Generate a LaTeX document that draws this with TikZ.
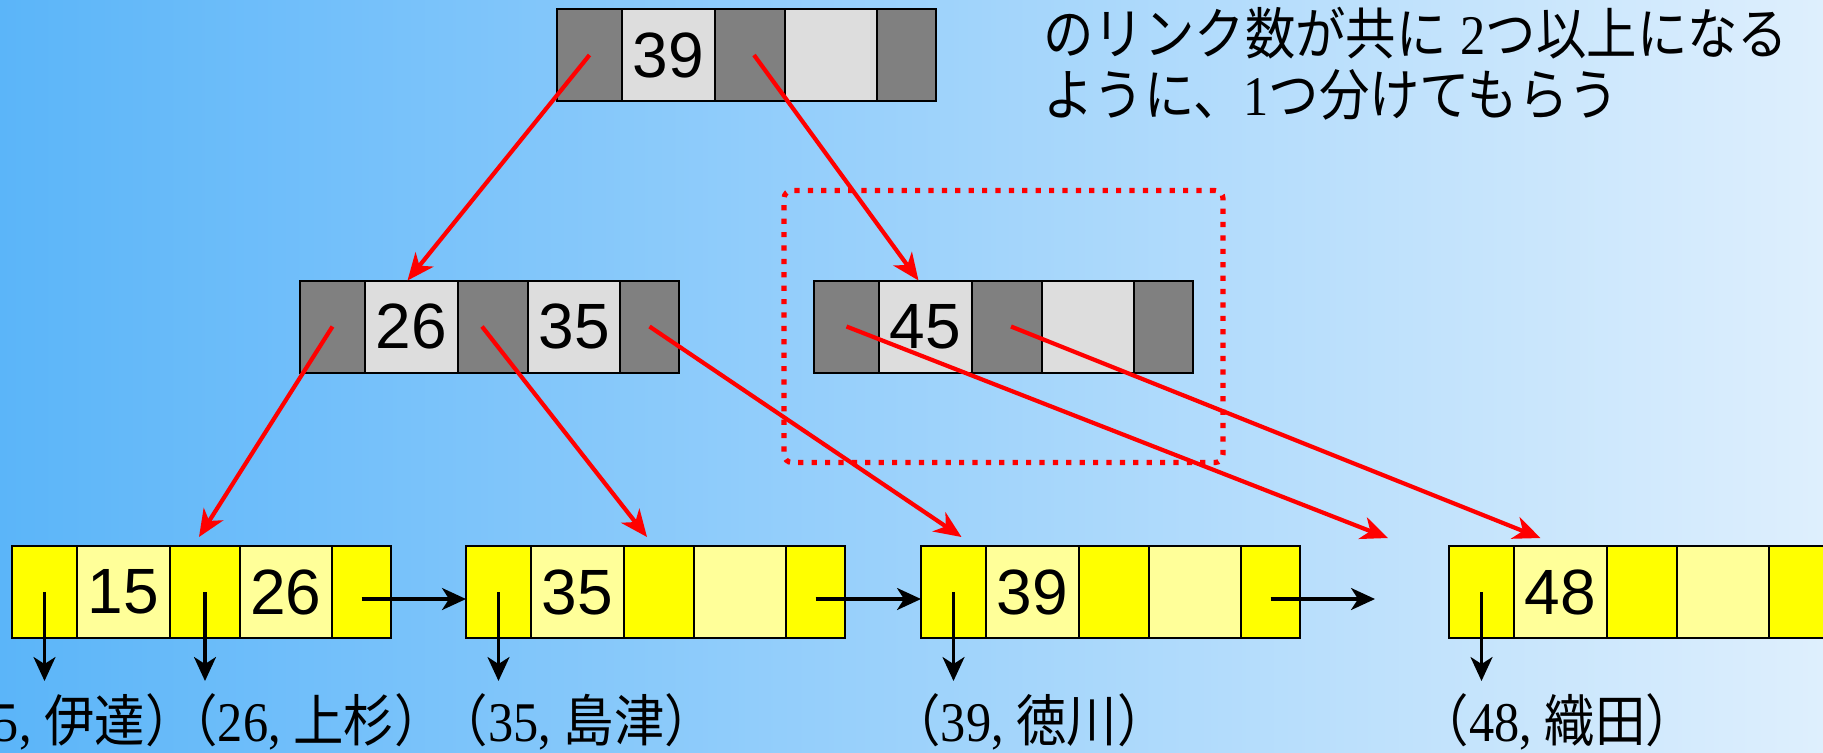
\documentclass[tikz,border=0pt]{standalone}
\usepackage{fontspec}
\setmainfont{Liberation Serif}
\newfontfamily\jp[FakeStretch=0.9]{Noto Sans CJK JP}
\newfontfamily\numf[FakeStretch=0.9]{Liberation Serif}
\newfontfamily\cellf{Liberation Sans}
\usepackage{tikz}
\usetikzlibrary{positioning,fit,arrows.meta}
\definecolor{bgl}{HTML}{5BB5F9}
\definecolor{bgr}{HTML}{DEEFFD}
\definecolor{ptrg}{HTML}{808080}
\definecolor{keyg}{HTML}{DDDDDD}
\definecolor{ptry}{HTML}{FFFF00}
\definecolor{keyy}{HTML}{FFFF99}
\definecolor{lnk}{HTML}{FF0000}
\tikzset{
  cell/.style={draw=black, line width=1pt, minimum height=46pt, inner sep=0pt, outer sep=0pt, font=\cellf\fontsize{32}{32}\selectfont},
  gptr/.style={cell, fill=ptrg},
  gkey/.style={cell, fill=keyg},
  yptr/.style={cell, fill=ptry},
  ykey/.style={cell, fill=keyy},
  link/.style={draw=lnk, line width=2.1pt, -{Stealth[length=13.5pt,width=11.5pt,inset=4pt]}},
  ref/.style={draw=black, line width=1.6pt, -{Stealth[length=12pt,width=11pt,inset=3.5pt]}},
  grp/.style={draw=lnk, line width=2.6pt, dash pattern=on 2.6pt off 4.1pt, rounded corners=4pt, inner xsep=15pt, inner ysep=45pt},
  lab/.style={anchor=base, inner sep=0pt, font=\fontsize{28}{32}\selectfont},
  note/.style={anchor=base west, inner sep=0pt, font=\fontsize{28}{32}\selectfont}
}
\begin{document}
\begin{tikzpicture}[x=0.5pt, y=-0.5pt]
  \useasboundingbox (0,0) rectangle (1823,752);
  \clip (0,0) rectangle (1823,752);
  \shade[left color=bgl, right color=bgr] (0,0) rectangle (1823,752);
  \foreach \nm/\x/\y/\cp/\ck/\ka/\kb in {
    root/557/9/gptr/gkey/39/{},
    mid/300/280.5/gptr/gkey/26/35,
    idx/814/280.5/gptr/gkey/45/{},
    lfa/12/546/yptr/ykey/15/26,
    lfb/466/546/yptr/ykey/35/{},
    lfc/921/546/yptr/ykey/39/{},
    lfd/1449/546/yptr/ykey/48/{}}
  {
    \node[\cp, minimum width=32.5pt, anchor=north west] (\nm-0) at (\x,\y) {};
    \node[\ck, minimum width=46.5pt, right=0pt of \nm-0] (\nm-1) {\ka};
    \node[\cp, minimum width=35pt, right=0pt of \nm-1] (\nm-2) {};
    \node[\ck, minimum width=46pt, right=0pt of \nm-2] (\nm-3) {\kb};
    \node[\cp, minimum width=29.5pt, right=0pt of \nm-3] (\nm-4) {};
  }
  \node[grp, fit=(idx-0)(idx-4)] (grpbox) {};
  \node[note] (note1) at (1043,54) {{\jp のリンク数が共に} {\numf 2}{\jp つ以上になる}};
  \node[note] (note2) at (1043,115) {{\jp ように、}{\numf 1}{\jp つ分けてもらう}};
  \draw[link] (root-0.center) -- ([xshift=-2pt]mid-1.north);
  \draw[link] ([xshift=2pt]root-2.center) -- ([xshift=-3.5pt]idx-1.north);
  \draw[link] (mid-0.center) -- ([xshift=-3pt,yshift=4.5pt]lfa-2.north);
  \draw[link] ([xshift=-5.5pt]mid-2.center) -- ([xshift=-6pt,yshift=4.5pt]lfb-2.north);
  \draw[link] (mid-4.center) -- ([xshift=4pt,yshift=4.5pt]lfc-0.north);
  \coordinate (gap) at (1388,538);
  \draw[link] (idx-0.center) -- (gap);
  \draw[link] ([xshift=2pt]idx-2.center) -- ([xshift=-10pt,yshift=4pt]lfd-1.north);
  \foreach \src/\dst in {lfa-4/lfb-0, lfb-4/lfc-0}
    \draw[ref] ([yshift=-3.5pt]\src.center) -- ([yshift=-3.5pt]\dst.west);
  \coordinate (slot) at (1375,599);
  \draw[ref] ([yshift=-3.5pt]lfc-4.center) -- (slot);
  \foreach \c in {lfa-0,lfa-2,lfb-0,lfc-0,lfd-0}
    \draw[ref] (\c.center) -- ([yshift=-44.5pt]\c.center);
  \node[lab] (k15) at (57,741) {{\jp （}{\numf 15, }{\jp 伊達）}};
  \node[lab] (k26) at (306,741) {{\jp （}{\numf 26, }{\jp 上杉）}};
  \node[lab] (k35) at (576.5,741) {{\jp （}{\numf 35, }{\jp 島津）}};
  \node[lab] (k39) at (1029,741) {{\jp （}{\numf 39, }{\jp 徳川）}};
  \node[lab] (k48) at (1557.5,741) {{\jp （}{\numf 48, }{\jp 織田）}};
\end{tikzpicture}
\end{document}
